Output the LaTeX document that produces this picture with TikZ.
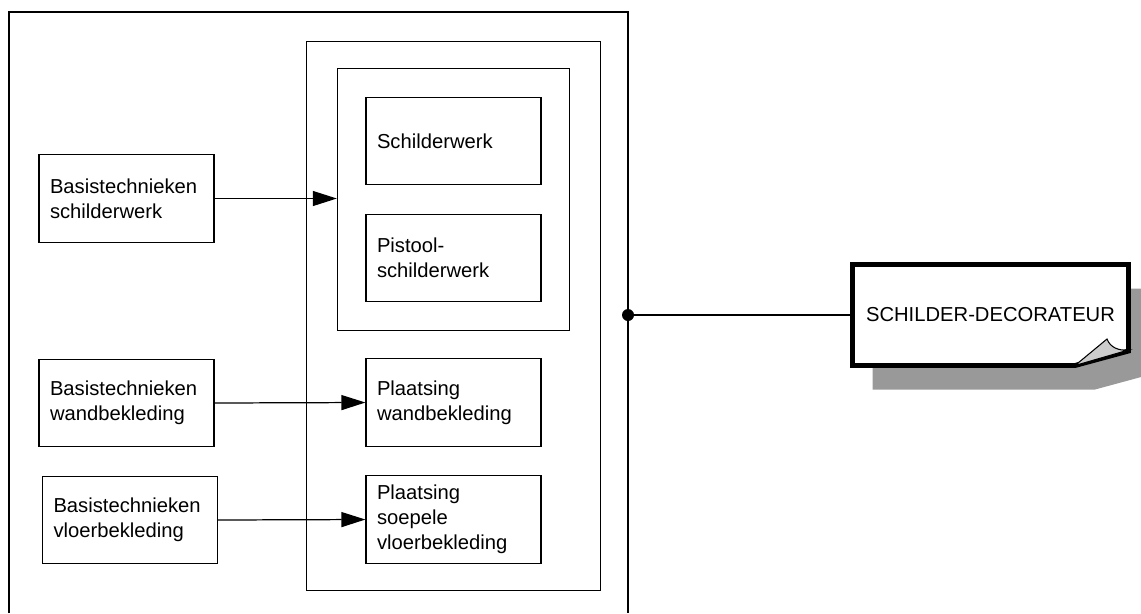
\documentclass[tikz,border=0pt]{standalone}
\usepackage{fontspec}
\setmainfont{Liberation Sans}
\usetikzlibrary{positioning,fit,arrows.meta}
\begin{document}
\begin{tikzpicture}[x=0.02cm, y=-0.02cm, line width=0.7pt,
  box/.style={draw, rectangle, minimum width=3.5cm, minimum height=1.75cm, text width=3.06cm, inner xsep=0.22cm, align=left, font=\fontsize{11.5}{14.2}\selectfont},
  frame/.style={draw, rectangle},
  flow/.style={-{Triangle[length=0.48cm,width=0.3cm]}}]
  \useasboundingbox (0,0) rectangle (1141,613);
  \draw (9,613) -- (9,12) -- (628,12) -- (628,613);
  \node [box] (bas1) at (126.5,198.5) {Basistechnieken\\schilderwerk};
  \node [box] (bas2) at (126.5,403) {Basistechnieken\\wandbekleding};
  \node [box] (bas3) at (130,520) {Basistechnieken\\vloerbekleding};
  \node [box] (schild) at (453.5,141) {Schilderwerk};
  \node [box] (pistool) at (453.5,258) {Pistool-\\schilderwerk};
  \node [box] (wand) at (453.5,402.5) {Plaatsing\\wandbekleding};
  \node [box] (soepel) at (453.5,519.5) {Plaatsing\\soepele\\vloerbekleding};
  \node [frame, fit=(schild)(pistool), inner sep=0.56cm] (inner) {};
  \node [frame, fit=(inner)(soepel), inner xsep=0.61cm, inner ysep=0.53cm] (middle) {};
  \draw [flow] (bas1.east) -- (bas1.east -| inner.west);
  \draw [flow] (bas2.east) -- (wand.west);
  \draw [flow] (bas3.east) -- (soepel.west);
  \fill [black!40] (872.5,288.5) -- (1148.5,288.5) -- (1148.5,375) -- (1095,389.5) -- (872.5,389.5) -- cycle;
  \draw [fill=white, line width=2.8pt, line join=miter] (852.5,264.5) -- (1128.5,264.5) -- (1128.5,351) -- (1075,365.5) -- (852.5,365.5) -- cycle;
  \draw [fill=black!20, line width=0.6pt] (1075,365.5) -- (1107,339) .. controls (1110,347) and (1118,351) .. (1128.5,350) -- cycle;
  \node [font=\fontsize{11.5}{14.2}\selectfont] (trade) at (990.5,315) {SCHILDER-DECORATEUR};
  \coordinate (jn) at (628,315);
  \coordinate (doc) at (852.5,315);
  \draw (jn) -- (doc);
  \fill (jn) circle [radius=0.12cm];
\end{tikzpicture}
\end{document}
